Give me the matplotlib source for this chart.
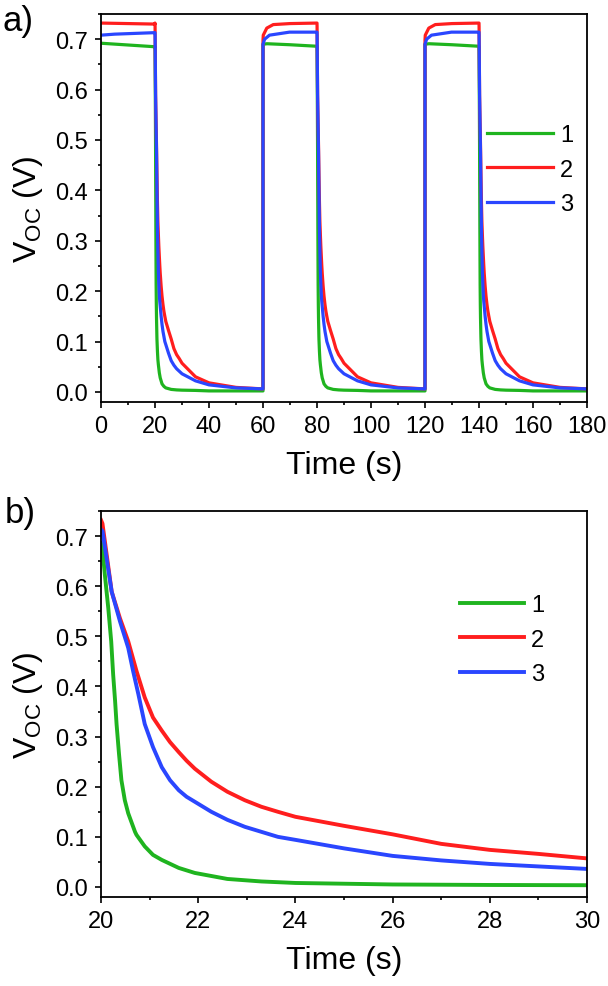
import numpy as np
import matplotlib
matplotlib.use('Agg')
import matplotlib.pyplot as plt
from matplotlib.ticker import MultipleLocator, FormatStrFormatter

plt.rcParams['font.family'] = ['Liberation Sans', 'DejaVu Sans']
plt.rcParams['mathtext.default'] = 'regular'

green = '#1fb41f'
red = '#ff1e1e'
blue = '#2a46ff'
labels = ['1', '2', '3']

# decay after light off at 20 s (tail from panel a)
green_dec_t = [20.0, 20.03, 20.08, 20.15, 20.21, 20.25, 20.29, 20.32, 20.37, 20.42, 20.49, 20.56, 20.7, 20.73, 20.9,
               21.07, 21.25, 21.6, 21.93, 22.6, 23.3, 24.0, 26.0, 28.0, 30.0, 35.0, 40.0, 50.0, 60.0]
green_dec_v = [0.686, 0.675, 0.622, 0.556, 0.49, 0.424, 0.371, 0.325, 0.266, 0.213, 0.173, 0.147, 0.11, 0.104, 0.081,
               0.064, 0.054, 0.038, 0.028, 0.016, 0.011, 0.008, 0.005, 0.004, 0.0035, 0.003, 0.002, 0.002, 0.002]
red_dec_t = [20.0, 20.03, 20.22, 20.39, 20.56, 20.73, 20.9, 21.07, 21.25, 21.42, 21.6, 21.76, 21.93, 22.27, 22.6,
             22.96, 23.3, 23.64, 24.0, 25.0, 26.0, 27.0, 28.0, 29.0, 30.0, 35.0, 40.0, 50.0, 60.0]
red_dec_v = [0.732, 0.725, 0.589, 0.536, 0.49, 0.431, 0.378, 0.338, 0.312, 0.289, 0.269, 0.252, 0.236, 0.21, 0.19,
             0.173, 0.16, 0.15, 0.14, 0.122, 0.105, 0.086, 0.074, 0.066, 0.057, 0.03, 0.018, 0.009, 0.006]
blue_dec_t = [20.0, 20.03, 20.22, 20.39, 20.56, 20.66, 20.77, 20.9, 21.07, 21.25, 21.42, 21.6, 21.76, 21.93, 22.27,
              22.6, 22.96, 23.3, 23.64, 24.0, 25.0, 26.0, 27.0, 28.0, 29.0, 30.0, 35.0, 40.0, 50.0, 60.0]
blue_dec_v = [0.713, 0.71, 0.589, 0.53, 0.477, 0.431, 0.384, 0.325, 0.279, 0.239, 0.213, 0.193, 0.18, 0.17, 0.15,
              0.134, 0.12, 0.11, 0.10, 0.094, 0.077, 0.062, 0.053, 0.046, 0.041, 0.036, 0.022, 0.014, 0.008, 0.006]

# first light-on period 0-20 s
green_on1_t = [0, 20]
green_on1_v = [0.692, 0.685]
red_on1_t = [0, 20]
red_on1_v = [0.732, 0.730]
blue_on1_t = [0, 5, 10, 20]
blue_on1_v = [0.708, 0.710, 0.711, 0.713]

# later light-on periods, time since light on
green_on_t = [0, 1.5, 10, 20]
green_on_v = [0.69, 0.691, 0.689, 0.686]
red_on_t = [0, 0.1, 1.4, 3.8, 10, 20]
red_on_v = [0.698, 0.708, 0.722, 0.729, 0.731, 0.732]
blue_on_t = [0, 0.6, 2.4, 9.8, 20]
blue_on_v = [0.69, 0.70, 0.708, 0.714, 0.714]

cycle_starts = [60, 120]


def full_trace(on1_t, on1_v, on_t, on_v, dec_t, dec_v):
    t = list(on1_t) + list(dec_t)
    v = list(on1_v) + list(dec_v)
    for s in cycle_starts:
        t += [s + x for x in on_t]
        v += list(on_v)
        t += [s + x for x in dec_t]
        v += list(dec_v)
    return np.array(t), np.array(v)


fig = plt.figure(figsize=(6.08, 9.87), dpi=100)
W, H = 608.0, 987.0

ax1 = fig.add_axes([101 / W, 1 - 403 / H, 486 / W, 388 / H])
ax2 = fig.add_axes([101 / W, 1 - 898 / H, 486 / W, 386 / H])

gt, gv = full_trace(green_on1_t, green_on1_v, green_on_t, green_on_v, green_dec_t, green_dec_v)
rt, rv = full_trace(red_on1_t, red_on1_v, red_on_t, red_on_v, red_dec_t, red_dec_v)
bt, bv = full_trace(blue_on1_t, blue_on1_v, blue_on_t, blue_on_v, blue_dec_t, blue_dec_v)

ax1.plot(gt, gv, color=green, lw=2.3, label=labels[0])
ax1.plot(rt, rv, color=red, lw=2.3, label=labels[1])
ax1.plot(bt, bv, color=blue, lw=2.3, label=labels[2])
ax1.set_xlim(0, 180)
ax1.set_ylim(-0.02, 0.75)
ax1.xaxis.set_major_locator(MultipleLocator(20))
ax1.xaxis.set_minor_locator(MultipleLocator(10))

ax2.plot(green_dec_t, green_dec_v, color=green, lw=2.8, label=labels[0])
ax2.plot(red_dec_t, red_dec_v, color=red, lw=2.8, label=labels[1])
ax2.plot(blue_dec_t, blue_dec_v, color=blue, lw=2.8, label=labels[2])
ax2.set_xlim(20, 30)
ax2.set_ylim(-0.02, 0.75)
ax2.xaxis.set_major_locator(MultipleLocator(2))
ax2.xaxis.set_minor_locator(MultipleLocator(1))

for ax in [ax1, ax2]:
    ax.yaxis.set_major_locator(MultipleLocator(0.1))
    ax.yaxis.set_minor_locator(MultipleLocator(0.05))
    ax.yaxis.set_major_formatter(FormatStrFormatter('%.1f'))
    ax.tick_params(which='both', direction='out', top=False, right=False, width=1.2)
    ax.tick_params(which='major', length=4.5, pad=5, labelsize=17)
    ax.tick_params(which='minor', length=2.5)
    for sp in ax.spines.values():
        sp.set_linewidth(1.3)
    ax.set_xlabel('Time (s)', fontsize=23, labelpad=9)
    ax.set_ylabel(r'V$_{OC}$ (V)', fontsize=23, labelpad=7)

ax1.legend(loc='upper left', bbox_to_anchor=(0.794, 0.7165), frameon=False, fontsize=17,
           handlelength=2.8, handletextpad=0.3, labelspacing=0.53, borderpad=0, borderaxespad=0)
ax2.legend(loc='upper left', bbox_to_anchor=(0.739, 0.785), frameon=False, fontsize=17,
           handlelength=2.7, handletextpad=0.3, labelspacing=0.53, borderpad=0, borderaxespad=0)

fig.text(3 / W, 1 - 22 / H, 'a)', fontsize=25, va='center', ha='left')
fig.text(5 / W, 1 - 514 / H, 'b)', fontsize=25, va='center', ha='left')

plt.savefig('out.png', dpi=100)
